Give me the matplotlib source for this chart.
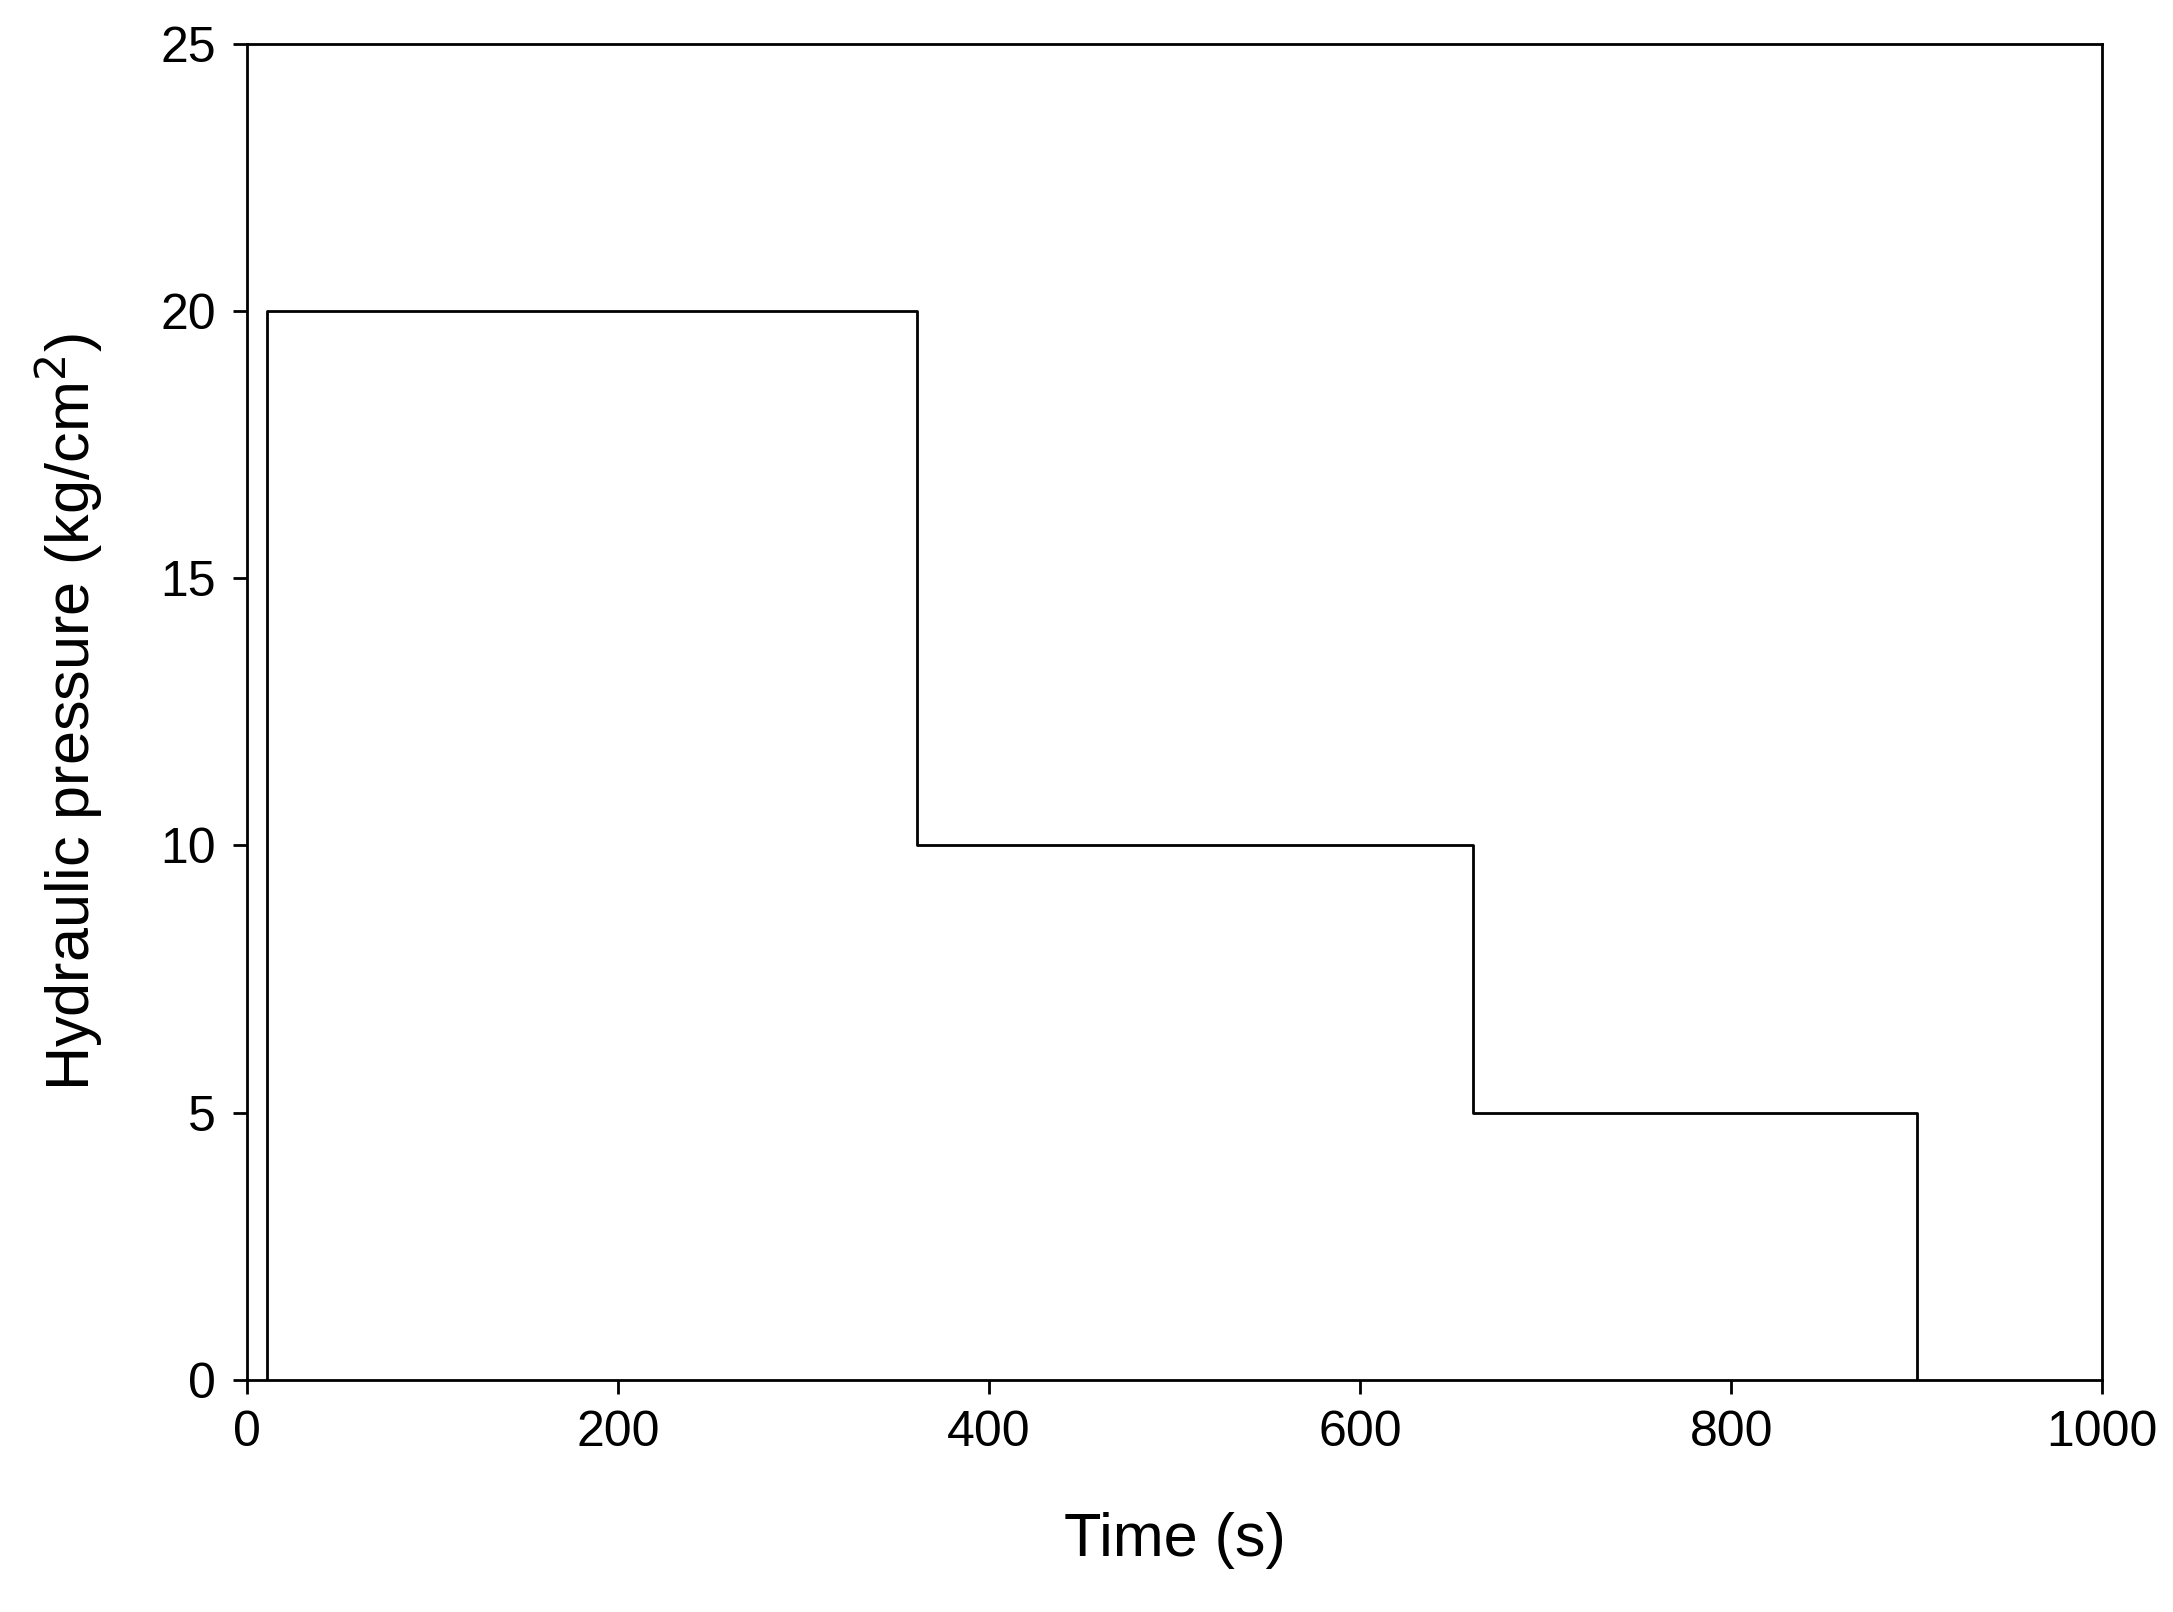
import matplotlib
matplotlib.use("Agg")
import matplotlib.pyplot as plt

# step profile of hydraulic pressure
time_s = [11, 11, 361, 361, 661, 661, 900, 900]
pressure = [0, 20, 20, 10, 10, 5, 5, 0]
x_ticks = [0, 200, 400, 600, 800, 1000]
y_ticks = [0, 5, 10, 15, 20, 25]

plt.rcParams['font.family'] = ['Liberation Sans', 'DejaVu Sans']

fig = plt.figure(figsize=(21.73, 16.12), dpi=100)
ax = fig.add_axes([0.1135, 0.144, 0.854, 0.829])
ax.plot(time_s, pressure, color='black', linewidth=2)

ax.set_xlim(0, 1000)
ax.set_ylim(0, 25)
ax.set_xticks(x_ticks)
ax.set_yticks(y_ticks)
ax.tick_params(direction='out', length=10, width=2, labelsize=36, pad=12)
for s in ax.spines.values():
    s.set_linewidth(2)

ax.set_xlabel('Time (s)', fontsize=44, labelpad=40)
ax.set_ylabel('Hydraulic pressure (kg/cm$^2$)', fontsize=44, labelpad=40)

fig.savefig('out.png', dpi=100)
